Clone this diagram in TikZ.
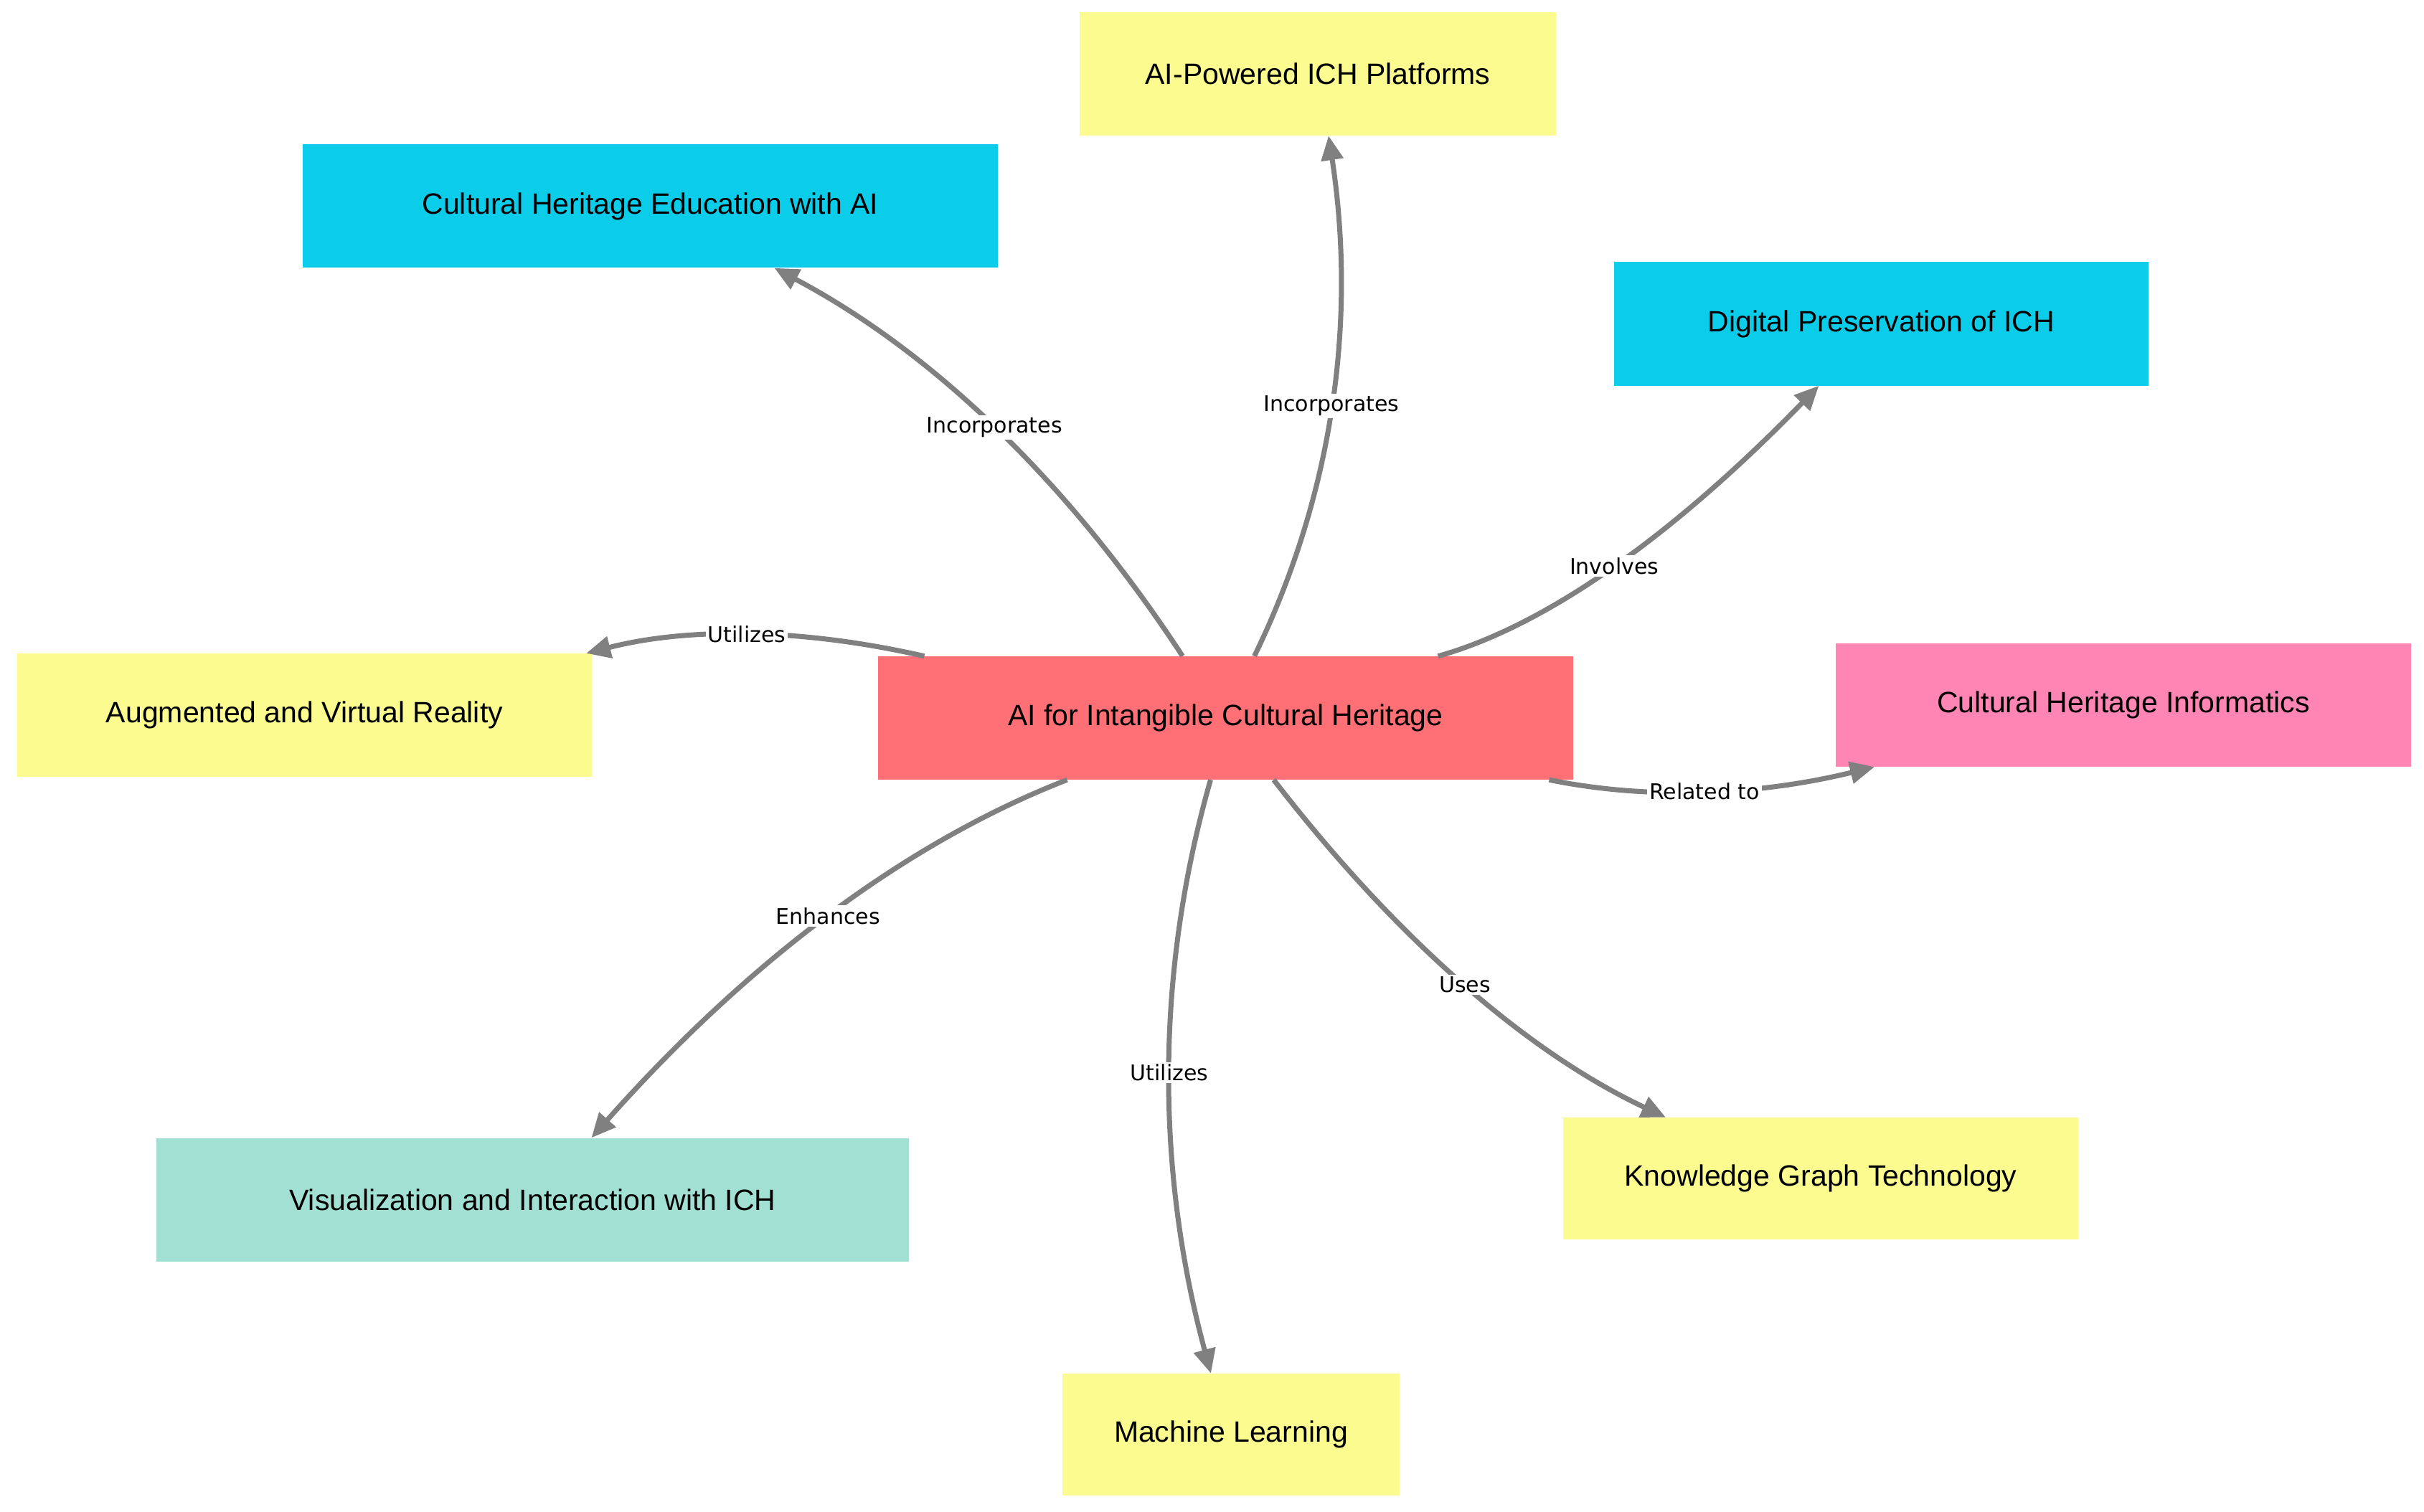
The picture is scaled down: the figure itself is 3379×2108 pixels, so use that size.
\documentclass[tikz,border=0pt]{standalone}
\usepackage{fontspec}
\setmainfont{Liberation Sans}
\newfontfamily\edgefont{DejaVu Sans}
\usetikzlibrary{arrows.meta}
\definecolor{nyellow}{RGB}{251,251,143}
\definecolor{ncyan}{RGB}{12,205,233}
\definecolor{nred}{RGB}{255,112,118}
\definecolor{npink}{RGB}{255,133,180}
\definecolor{nteal}{RGB}{162,224,212}
\definecolor{arrowgray}{RGB}{128,128,128}
\begin{document}
\begin{tikzpicture}[x=1pt,y=-1pt,
  box/.style={rectangle, minimum height=172pt, inner sep=0pt, text=black,
    font=\fontsize{41}{49}\selectfont},
  conn/.style={draw=arrowgray, line width=7pt, -{Triangle[length=34pt,width=30pt]}},
  lbl/.style={fill=white, inner sep=3pt, text=black, font=\edgefont\fontsize{30}{36}\selectfont}]
\useasboundingbox[fill=white] (0,0) rectangle (3379,2108);

\node[box, fill=nyellow, minimum width=664pt] (plat) at (1837,103) {AI-Powered ICH Platforms};
\node[box, fill=ncyan, minimum width=969pt] (edu) at (906.5,287.5) {Cultural Heritage Education with AI};
\node[box, fill=ncyan, minimum width=745pt] (dig) at (2622.5,451.5) {Digital Preservation of ICH};
\node[box, fill=nyellow, minimum width=801pt] (avr) at (424.5,997) {Augmented and Virtual Reality};
\node[box, fill=nred, minimum width=969pt] (c) at (1708.5,1001) {AI for Intangible Cultural Heritage};
\node[box, fill=npink, minimum width=802pt] (inf) at (2960,983) {Cultural Heritage Informatics};
\node[box, fill=nteal, minimum width=1049pt] (vis) at (742.5,1672.5) {Visualization and Interaction with ICH};
\node[box, fill=nyellow, minimum width=470pt, minimum height=170pt] (ml) at (1716,2000) {Machine Learning};
\node[box, fill=nyellow, minimum width=718pt, minimum height=170pt] (kg) at (2538,1643) {Knowledge Graph Technology};

\draw[conn] ([xshift=-60pt]c.north) .. controls (1488.3,670) and (1298.7,489.7) .. node[lbl, midway]{Incorporates} ([xshift=173pt]edu.south);
\draw[conn] ([xshift=40pt]c.north) .. controls (1857.3,691.3) and (1891.7,449.7) .. node[lbl, midway]{Incorporates} ([xshift=15pt]plat.south);
\draw[conn] ([xshift=296pt]c.north) .. controls (2155,872.7) and (2332,747) .. node[lbl, midway]{Involves} ([xshift=-87pt]dig.south);
\draw[conn] ([xshift=-420pt]c.north) .. controls (1115.7,875.3) and (958.3,874.7) .. node[lbl, midway]{Utilizes} ([xshift=-8pt]avr.north east);
\draw[conn] ([xshift=451pt]c.south) .. controls (2297,1115.3) and (2448.3,1109.3) .. node[lbl, midway]{Related to} ([xshift=-347pt]inf.south);
\draw[conn] ([xshift=-221pt]c.south) .. controls (1264,1174) and (1043,1340) .. node[lbl, midway]{Enhances} ([xshift=82pt]vis.north);
\draw[conn] ([xshift=-21pt]c.south) .. controls (1610.7,1355.7) and (1611,1630.7) .. node[lbl, midway]{Utilizes} ([xshift=-28pt]ml.north);
\draw[conn] ([xshift=67pt]c.south) .. controls (1948.7,1311.7) and (2131,1468) .. node[lbl, midway]{Uses} ([xshift=-216pt]kg.north);
\end{tikzpicture}
\end{document}
